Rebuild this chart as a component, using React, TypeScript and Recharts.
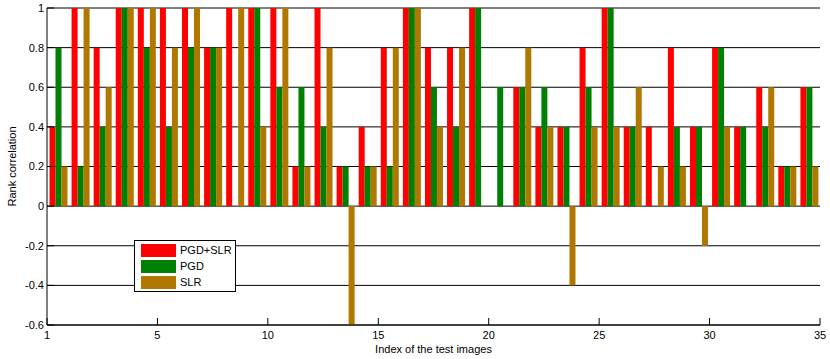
import {
  ComposedChart, Bar, Line, XAxis, YAxis, CartesianGrid, Legend,
} from 'recharts';

// index of the test image (one group of three bars each)
const IMAGE_INDEX = [
  1, 2, 3, 4, 5, 6, 7, 8, 9, 10, 11, 12, 13, 14, 15, 16, 17, 18,
  19, 20, 21, 22, 23, 24, 25, 26, 27, 28, 29, 30, 31, 32, 33, 34, 35,
];

// rank correlation per image
const PGD_SLR = [
  0.4, 1, 0.8, 1, 1, 1, 1, 0.8, 1, 1, 1, 0.2, 1, 0.2, 0.4, 0.8, 1, 0.8,
  0.8, 1, 0, 0.6, 0.4, 0.4, 0.8, 1, 0.4, 0.4, 0.8, 0.4, 0.8, 0.4, 0.6, 0.2, 0.6,
];
const PGD = [
  0.8, 0.2, 0.4, 1, 0.8, 0.4, 0.8, 0.8, 0, 1, 0.6, 0.6, 0.4, 0.2, 0.2, 0.2, 1, 0.6,
  0.4, 1, 0.6, 0.6, 0.6, 0.4, 0.6, 1, 0.4, 0, 0.4, 0.4, 0.8, 0.4, 0.4, 0.2, 0.6,
];
const SLR = [
  0.2, 1, 0.6, 1, 1, 0.8, 1, 0.8, 1, 0.4, 1, 0.2, 0.8, -0.6, 0.2, 0.8, 1, 0.4,
  0.8, 0, 0, 0.8, 0.4, -0.4, 0.4, 0.4, 0.6, 0.2, 0.2, -0.2, 0.4, 0, 0.6, 0.2, 0.2,
];

const X_TICKS = [0, 5, 10, 15, 20, 25, 30, 35];
const X_TICK_LABELS = ['1', '5', '10', '15', '20', '25', '30', '35'];
const Y_TICKS = [-0.6, -0.4, -0.2, 0, 0.2, 0.4, 0.6, 0.8, 1];

const SERIES = [
  { key: 'pgdSlr', name: 'PGD+SLR', color: '#ff0000' },
  { key: 'pgd', name: 'PGD', color: '#008000' },
  { key: 'slr', name: 'SLR', color: '#b07800' },
];

const FONT = '"Liberation Sans", Arial, sans-serif';
const TICK = { fontSize: 11, fill: '#000', fontFamily: FONT };
const LINE = { stroke: '#000' };

const data = IMAGE_INDEX.map((idx, i) => ({
  idx,
  pos: idx - 0.5,
  pgdSlr: PGD_SLR[i],
  pgd: PGD[i],
  slr: SLR[i],
}));

function LegendBox() {
  return (
    <div style={{
      border: '1px solid #000', background: '#fff', padding: '1px 0 1px 6px',
      width: 102, boxSizing: 'border-box', fontFamily: FONT, fontSize: 11, color: '#000',
    }}>
      {SERIES.map((s) => (
        <div key={s.key} style={{ display: 'flex', alignItems: 'center', height: 16 }}>
          <span style={{ display: 'inline-block', width: 35, height: 13, background: s.color, marginRight: 4 }} />
          <span>{s.name}</span>
        </div>
      ))}
    </div>
  );
}

export default function App() {
  return (
    <div style={{ position: 'absolute', left: 0, top: 0, background: '#fff' }}>
      <ComposedChart width={830} height={359} data={data}
        margin={{ top: 8, right: 10, bottom: 0, left: 0 }}
        barCategoryGap={2.5} barGap={0}>
        <CartesianGrid vertical={false} stroke="#000" strokeOpacity={1} />

        {/* visible ticks on a numeric axis, bars on a hidden band axis */}
        <XAxis xAxisId="num" dataKey="pos" type="number" domain={[0, 35]} allowDataOverflow
          ticks={X_TICKS} interval={0} height={34}
          tickFormatter={(v: number) => X_TICK_LABELS[X_TICKS.indexOf(v)] ?? ''}
          tick={TICK} tickSize={-7} tickMargin={13} axisLine={LINE} tickLine={LINE}
          label={{ value: 'Index of the test images', position: 'insideBottom', offset: 6, style: { ...TICK } }} />
        <XAxis dataKey="idx" type="category" hide height={0} />
        <XAxis xAxisId="top" orientation="top" dataKey="pos" type="number" domain={[0, 35]} allowDataOverflow
          ticks={X_TICKS} interval={0} height={0} tickFormatter={() => ''}
          tickSize={-7} axisLine={LINE} tickLine={LINE} />

        <YAxis domain={[-0.6, 1]} allowDataOverflow ticks={Y_TICKS} interval={0} width={47}
          tickFormatter={(v: number) => String(Number(v.toFixed(1)))}
          tick={TICK} tickSize={-7} tickMargin={10} axisLine={LINE} tickLine={LINE}
          label={{ value: 'Rank correlation', angle: -90, position: 'insideLeft', offset: 12, style: { ...TICK, textAnchor: 'middle' } }} />
        <YAxis yAxisId="right" orientation="right" domain={[-0.6, 1]} allowDataOverflow
          ticks={Y_TICKS} interval={0} width={0} tickFormatter={() => ''}
          tickSize={-7} axisLine={LINE} tickLine={LINE} />

        {SERIES.map((s) => (
          <Bar key={s.key} dataKey={s.key} name={s.name} fill={s.color} isAnimationActive={false} />
        ))}

        {/* invisible series so the numeric top / bottom / right axes get a scale */}
        <Line xAxisId="num" dataKey="pgdSlr" stroke="none" dot={false} activeDot={false}
          legendType="none" isAnimationActive={false} />
        <Line xAxisId="top" yAxisId="right" dataKey="pgd" stroke="none" dot={false} activeDot={false}
          legendType="none" isAnimationActive={false} />

        <Legend layout="horizontal" verticalAlign="middle" align="center" content={<LegendBox />}
          wrapperStyle={{ position: 'absolute', left: 134, top: 240, width: 102, height: 52 }} />
      </ComposedChart>
    </div>
  );
}
